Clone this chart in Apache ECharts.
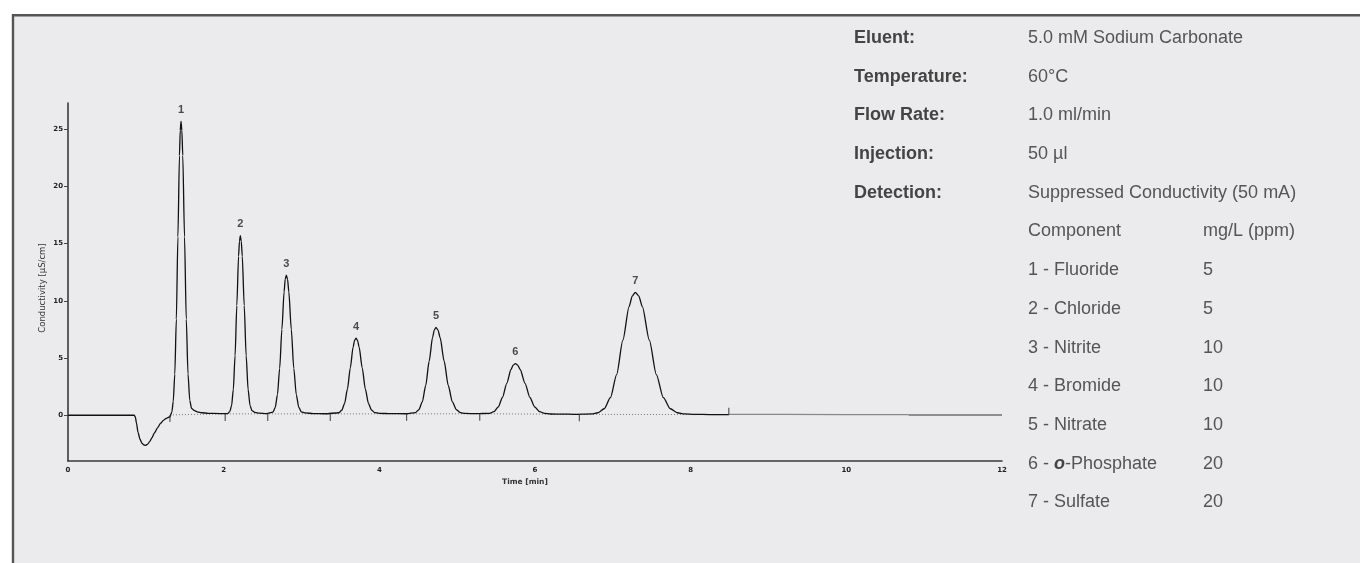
<!DOCTYPE html>
<html>
<head>
<meta charset="utf-8">
<script src="https://cdn.jsdelivr.net/npm/echarts@6/dist/echarts.min.js"></script>
<style>html,body{margin:0;padding:0;background:#fff}#c{width:1360px;height:563px}</style>
</head>
<body>
<div id="c"></div>
<script>
// ---- data (time [min], conductivity [µS/cm]) ----
var leadIn = [[0,0],[0.5,0],[0.85,0],[0.865,-0.15],[0.88,-0.7],[0.90,-1.5],[0.925,-2.1],[0.95,-2.45],[0.975,-2.6],[0.995,-2.63],[1.02,-2.55],[1.05,-2.3],[1.08,-1.95],[1.11,-1.55],[1.15,-1.1],[1.19,-0.7],[1.23,-0.42],[1.27,-0.25],[1.31,-0.13]];
var peak1 = [[1.335,0.3],[1.352,1.2],[1.372,3.6],[1.392,8.4],[1.412,15.6],[1.432,22.7],[1.442,24.9],[1.452,25.7],[1.463,24.9],[1.4745,22.7],[1.497,15.6],[1.5195,8.4],[1.542,3.6],[1.5645,1.3],[1.587,0.6],[1.62,0.42],[1.66,0.3],[1.72,0.22],[1.80,0.17],[1.95,0.15],[2.05,0.15]];
var peak2 = [[2.079,0.32],[2.1015,0.83],[2.124,2.25],[2.1465,5.2],[2.169,9.6],[2.1915,13.9],[2.2028,15.2],[2.214,15.7],[2.2265,15.2],[2.239,13.9],[2.264,9.6],[2.289,5.2],[2.314,2.25],[2.339,0.85],[2.364,0.4],[2.40,0.25],[2.46,0.18],[2.55,0.15]];
var peak3 = [[2.634,0.28],[2.6625,0.68],[2.691,1.8],[2.7195,4.1],[2.748,7.5],[2.7765,10.8],[2.7908,11.9],[2.805,12.25],[2.821,11.9],[2.837,10.8],[2.869,7.5],[2.901,4.1],[2.933,1.8],[2.965,0.7],[2.997,0.3],[3.05,0.2],[3.15,0.15],[3.30,0.13]];
var peak4 = [[3.481,0.22],[3.5175,0.44],[3.554,1.04],[3.5905,2.3],[3.627,4.15],[3.6635,5.97],[3.6818,6.55],[3.70,6.75],[3.72,6.55],[3.74,5.97],[3.78,4.15],[3.82,2.3],[3.86,1.04],[3.90,0.45],[3.94,0.23],[4.0,0.17],[4.15,0.14],[4.35,0.13]];
var peak5 = [[4.464,0.23],[4.508,0.48],[4.552,1.17],[4.596,2.6],[4.64,4.72],[4.684,6.8],[4.706,7.45],[4.728,7.68],[4.754,7.45],[4.7805,6.8],[4.833,4.72],[4.8855,2.6],[4.938,1.17],[4.9905,0.48],[5.043,0.23],[5.10,0.16],[5.25,0.14]];
var peak6 = [[5.417,0.17],[5.472,0.31],[5.527,0.72],[5.582,1.55],[5.637,2.79],[5.692,4.0],[5.7195,4.38],[5.747,4.52],[5.778,4.38],[5.8095,4.0],[5.872,2.79],[5.9345,1.55],[5.997,0.72],[6.0595,0.31],[6.122,0.17],[6.20,0.11],[6.35,0.1],[6.5,0.08]];
var peak7 = [[6.729,0.12],[6.809,0.22],[6.889,0.57],[6.969,1.54],[7.049,3.56],[7.129,6.56],[7.209,9.5],[7.249,10.42],[7.289,10.75],[7.334,10.42],[7.379,9.5],[7.469,6.56],[7.559,3.56],[7.649,1.54],[7.739,0.57],[7.829,0.22],[7.919,0.12],[8.05,0.08],[8.25,0.06],[8.49,0.05]];
var tailGray = [[8.49,0.08],[9.2,0.07],[10.0,0.06],[10.8,0.06]];
var tailDark = [[10.8,0.02],[11.5,0.02],[12,0.02]];
var integrationBase = [[1.31,0.03],[2.02,0.12],[2.566,0.12],[3.37,0.12],[4.35,0.12],[5.29,0.13],[6.57,0.08],[8.49,0.05]];
var ticksDown = [[1.31,0.03],[2.02,0.12],[2.566,0.12],[3.37,0.12],[4.35,0.12],[5.29,0.13],[6.57,0.08]];
var ticksUp = [[8.49,0.05]];
var peakNumbers = [[1.452,25.7,'1'],[2.214,15.7,'2'],[2.805,12.25,'3'],[3.70,6.75,'4'],[4.728,7.68,'5'],[5.747,4.52,'6'],[7.289,10.75,'7']];
var yTicks = [0,5,10,15,20,25];
var xTicks = [0,2,4,6,8,10,12];

var infoLabels = ['Eluent:','Temperature:','Flow Rate:','Injection:','Detection:'];
var infoValues = ['5.0 mM Sodium Carbonate','60°C','1.0 ml/min','50 µl','Suppressed Conductivity (50 mA)'];
var tableHeader = ['Component','mg/L (ppm)'];
var components = ['1 - Fluoride','2 - Chloride','3 - Nitrite','4 - Bromide','5 - Nitrate','6 - {o|o}-Phosphate','7 - Sulfate'];
var concentrations = ['5','5','10','10','10','20','20'];

// ---- build ----
var chromatogram = [].concat(leadIn, peak1, peak2, peak3, peak4, peak5, peak6, peak7);

var FONT = '"Liberation Sans", Arial, sans-serif';
var graphics = [{
  type:'rect', z:-100, silent:true,
  shape:{x:13, y:15.2, width:1420, height:620},
  style:{fill:'#ebebed', stroke:'#555555', lineWidth:2.4}
}];
var rowY0 = 38, rowH = 38.7, colLabel = 854, colVal = 1028, colConc = 1203;
function txt(x, y, s, weight, color, extra){
  var st = {text:s, fill:color, fontSize:18, fontFamily:FONT, fontWeight:weight, verticalAlign:'middle', align:'left'};
  if (extra) for (var k in extra) st[k] = extra[k];
  return {type:'text', x:x, y:y, z:50, silent:true, style:st};
}
for (var i=0;i<infoLabels.length;i++){
  graphics.push(txt(colLabel, rowY0+i*rowH, infoLabels[i], 'bold', '#444'));
  graphics.push(txt(colVal, rowY0+i*rowH, infoValues[i], 'normal', '#555'));
}
var r = infoLabels.length;
graphics.push(txt(colVal, rowY0+r*rowH, tableHeader[0], 'normal', '#555'));
graphics.push(txt(colConc, rowY0+r*rowH, tableHeader[1], 'normal', '#555'));
for (var j=0;j<components.length;j++){
  var yy = rowY0+(r+1+j)*rowH;
  graphics.push(txt(colVal, yy, components[j], 'normal', '#555', {
    rich:{o:{fontSize:18, fontFamily:FONT, fontWeight:'bold', fontStyle:'italic', fill:'#444'}}
  }));
  graphics.push(txt(colConc, yy, concentrations[j], 'normal', '#555'));
}

var chart = echarts.init(document.getElementById('c'), null, {renderer:'canvas'});
chart.setOption({
  backgroundColor:'#ffffff',
  animation:false,
  graphic:{elements:graphics},
  grid:{left:68, right:358, top:103, bottom:102, containLabel:false},
  xAxis:{
    type:'value', min:0, max:12, interval:2,
    name:'Time [min]', nameLocation:'middle', nameGap:17, nameMoveOverlap:false,
    nameTextStyle:{fontFamily:'"DejaVu Sans", sans-serif', fontSize:7.5, fontWeight:'bold', color:'#333', padding:[0,20,0,0]},
    axisLine:{show:true, onZero:false, lineStyle:{color:'#3a3a3a', width:1.6}},
    axisTick:{show:false},
    splitLine:{show:false},
    axisLabel:{margin:6, fontFamily:'"DejaVu Sans", sans-serif', fontSize:7, fontWeight:'bold', color:'#222',
      customValues:xTicks}
  },
  yAxis:{
    type:'value', min:-4, max:27.3,
    name:'Conductivity [µS/cm]', nameLocation:'middle', nameGap:21, nameRotate:90, nameMoveOverlap:false,
    nameTextStyle:{fontFamily:'"DejaVu Sans", sans-serif', fontSize:8.5, color:'#333', padding:[0,12,0,0]},
    axisLine:{show:true, onZero:false, lineStyle:{color:'#3a3a3a', width:1.6}},
    axisTick:{show:true, length:4, inside:false, lineStyle:{color:'#444', width:1}, customValues:yTicks},
    splitLine:{show:false},
    axisLabel:{margin:5, fontFamily:'"DejaVu Sans", sans-serif', fontSize:7, fontWeight:'bold', color:'#222',
      customValues:yTicks}
  },
  series:[
    {type:'line', data:integrationBase, symbol:'none', z:3, silent:true,
      lineStyle:{color:'#777', width:1, type:[1,2]}},
    {type:'line', data:chromatogram, symbol:'none', z:5, silent:true, smooth:0.25, smoothMonotone:'x',
      lineStyle:{color:'#111', width:1.3}},
    {type:'line', data:tailGray, symbol:'none', z:4, silent:true,
      lineStyle:{color:'#888', width:1.3}},
    {type:'line', data:tailDark, symbol:'none', z:4, silent:true,
      lineStyle:{color:'#333', width:1.2}},
    {type:'scatter', data:ticksDown, symbol:'rect', symbolSize:[1.2,7], symbolOffset:[0,3.5], z:6, silent:true,
      itemStyle:{color:'#333'}},
    {type:'scatter', data:ticksUp, symbol:'rect', symbolSize:[1.2,7], symbolOffset:[0,-3.5], z:6, silent:true,
      itemStyle:{color:'#333'}},
    {type:'scatter', data:peakNumbers, symbolSize:0, z:7, silent:true,
      label:{show:true, position:'top', distance:6, formatter:function(p){return p.value[2];},
        fontFamily:FONT, fontSize:11, fontWeight:'bold', color:'#222'}}
  ]
});
</script>
</body>
</html>
